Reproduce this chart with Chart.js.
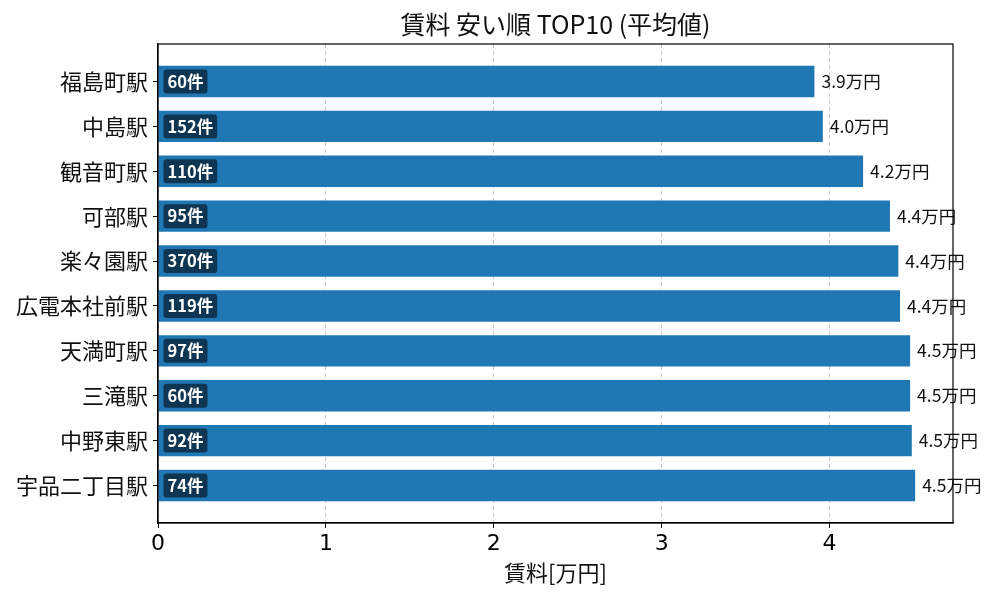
<!DOCTYPE html>
<html><head><meta charset="utf-8">
<script src="https://cdn.jsdelivr.net/npm/chart.js@4/dist/chart.umd.min.js"></script>
<style>html,body{margin:0;padding:0;background:#fff}</style>
</head><body>
<canvas id="c" width="1000" height="600"></canvas>
<script>
const stations = ['福島町駅','中島駅','観音町駅','可部駅','楽々園駅','広電本社前駅','天満町駅','三滝駅','中野東駅','宇品二丁目駅'];
const rents = [3.91, 3.96, 4.20, 4.36, 4.41, 4.42, 4.48, 4.48, 4.49, 4.51];
const counts = [60, 152, 110, 95, 370, 119, 97, 60, 92, 74];
const xTicks = [0, 1, 2, 3, 4];
const chartTitle = '賃料 安い順 TOP10 (平均値)';
const xTitle = '賃料[万円]';

const FONT = '"Noto Sans CJK JP", "Noto Sans", sans-serif';
Chart.defaults.font.family = FONT;
const n = stations.length;
const xMax = Math.max(...rents) * 1.05;
const yPad = 0.35 + (n - 1 + 0.7) * 0.05;

const labelPlugin = {
  id: 'labels',
  afterDatasetsDraw(chart) {
    const ctx = chart.ctx;
    const meta = chart.getDatasetMeta(0);
    meta.data.forEach((bar, i) => {
      const p = bar.getProps(['x', 'y', 'base', 'height'], true);
      ctx.save();
      ctx.textBaseline = 'middle';
      ctx.textAlign = 'left';
      ctx.font = '17.5px ' + FONT;
      ctx.fillStyle = '#111';
      ctx.fillText(rents[i].toFixed(1) + '万円', p.x + 7, p.y);
      ctx.font = 'bold 16.5px ' + FONT;
      const t = counts[i] + '件';
      const w = ctx.measureText(t).width;
      const bx = p.base + 5, bh = 24;
      ctx.fillStyle = 'rgba(0,0,0,0.55)';
      ctx.beginPath();
      ctx.roundRect(bx, p.y - bh / 2, w + 8, bh, 3);
      ctx.fill();
      ctx.fillStyle = '#fff';
      ctx.fillText(t, bx + 4, p.y);
      ctx.restore();
    });
  },
  afterDraw(chart) {
    const { ctx, chartArea: a } = chart;
    ctx.save();
    ctx.strokeStyle = '#000';
    ctx.lineWidth = 1.2;
    ctx.strokeRect(a.left, a.top, a.right - a.left, a.bottom - a.top);
    ctx.font = '25px ' + FONT;
    ctx.fillStyle = '#111';
    ctx.textAlign = 'center';
    ctx.textBaseline = 'middle';
    ctx.fillText(chartTitle, (a.left + a.right) / 2, a.top - 20);
    ctx.restore();
  }
};

new Chart(document.getElementById('c'), {
  type: 'bar',
  data: {
    datasets: [{
      data: rents.map((v, i) => ({ x: v, y: i })),
      backgroundColor: '#1f77b4',
      borderWidth: 0,
      barPercentage: 0.7,
      categoryPercentage: 1.0
    }]
  },
  options: {
    indexAxis: 'y',
    responsive: false,
    animation: false,
    layout: { padding: { top: 44, right: 47, left: 0, bottom: 0 } },
    plugins: { legend: { display: false }, tooltip: { enabled: false }, title: { display: false } },
    scales: {
      x: {
        type: 'linear', min: 0, max: xMax, bounds: 'data', offset: false,
        afterBuildTicks: s => { s.ticks = xTicks.map(v => ({ value: v })); },
        afterFit: s => { s.height = 77; },
        grid: { color: '#cccccc', lineWidth: 1, tickColor: '#000', tickLength: 5, drawTicks: true, offset: false },
        border: { display: true, color: '#000', width: 1.2, dash: [4, 3] },
        ticks: { font: { size: 22, family: '"DejaVu Sans", sans-serif' }, color: '#000', padding: 3, callback: v => String(v) },
        title: { display: true, text: xTitle, font: { size: 22 }, color: '#111', padding: { top: 0, bottom: 14 } }
      },
      y: {
        type: 'linear', reverse: true, min: -yPad, max: n - 1 + yPad, bounds: 'data', offset: false,
        afterBuildTicks: s => { s.ticks = stations.map((_, i) => ({ value: i })); },
        afterFit: s => { s.width = 158; },
        grid: { drawOnChartArea: false, drawTicks: true, tickLength: 5, tickColor: '#000', offset: false },
        border: { display: true, color: '#000', width: 1.2 },
        ticks: { font: { size: 22 }, color: '#111', padding: 5, callback: v => stations[v] }
      }
    }
  },
  plugins: [labelPlugin]
});
</script>
</body></html>
